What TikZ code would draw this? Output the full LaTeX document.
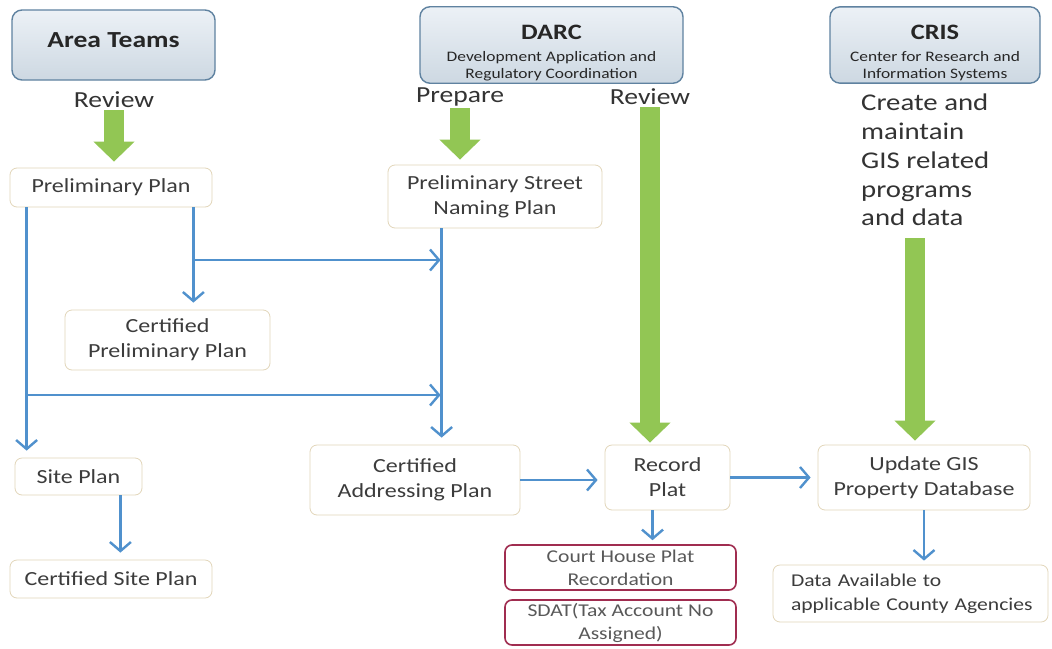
\documentclass[tikz,border=0pt]{standalone}
\usepackage{fontspec}
\setmainfont{Carlito}[FakeStretch=1.2]
\usetikzlibrary{arrows.meta}
\definecolor{hdrline}{RGB}{95,130,160}
\definecolor{hdrtop}{RGB}{236,241,246}
\definecolor{hdrbot}{RGB}{205,216,226}
\definecolor{boxline}{RGB}{226,214,186}
\definecolor{recline}{RGB}{160,45,80}
\definecolor{textgrey}{RGB}{60,60,60}
\definecolor{flowblue}{RGB}{80,145,205}
\definecolor{pushgreen}{RGB}{146,198,84}
\begin{document}
\begin{tikzpicture}[x=1pt,y=-1pt]
	\tikzstyle{header} = [draw=hdrline,line width=1.4pt,rounded corners=10pt,top color=hdrtop,bottom color=hdrbot,text=black!85,align=center,minimum height=70pt,inner sep=2pt,font=\fontsize{14.5}{17}\selectfont]
	\tikzstyle{stage} = [draw=boxline,line width=0.8pt,rounded corners=7pt,fill=white,text=textgrey,align=center,inner sep=2pt,font=\fontsize{20}{25}\selectfont]
	\tikzstyle{record} = [draw=recline,line width=1.6pt,rounded corners=7pt,text=textgrey!85,align=center,inner sep=2pt,minimum width=231pt,minimum height=45pt,font=\fontsize{18}{23}\selectfont]
	\tikzstyle{task} = [text=black!80,inner sep=2pt,font=\fontsize{23}{28}\selectfont]
	\tikzstyle{flow} = [color=flowblue,line width=2.4pt,-{Straight Barb[length=9pt,width=21pt]},shorten >=7pt]
	\tikzstyle{push} = [color=pushgreen,line width=20pt,-{Triangle[length=20pt,width=40pt]}]
	\path[fill=white,use as bounding box] (0,0) rectangle (1052,648);
	
	% units
	\node[header,minimum width=203pt](area)at (113.5,45){\fontsize{23}{26}\selectfont\bfseries\rule[-10pt]{0pt}{10pt}Area Teams};
	\node[header,minimum width=263pt](darc)at (551.5,45){{\fontsize{22}{24}\selectfont\bfseries\rule{0pt}{31pt}DARC}\\[5pt]Development Application and\\Regulatory Coordination};
	\node[header,minimum width=210pt](cris)at (935,45){{\fontsize{22}{24}\selectfont\bfseries\rule{0pt}{31pt}CRIS}\\[5pt]Center for Research and\\Information Systems};
	
	% tasks
	\node[task](rev1)at (114,100){Review};
	\node[task](prep)at (460,97){Prepare};
	\node[task](rev2)at (650,97){Review};
	\node[task,anchor=north west,align=left,font=\fontsize{24}{28.75}\selectfont](note)at (859,92){Create and\\maintain\\GIS related\\programs\\and data};
	\coordinate (gtop) at (915,238);
	
	% plans
	\node[stage,minimum width=202pt,minimum height=39pt](prelim)at (111,187.5){Preliminary Plan};
	\node[stage,minimum width=214pt,minimum height=63pt](street)at (495,196.5){Preliminary Street\\Naming Plan};
	\node[stage,minimum width=205pt,minimum height=60pt](cprelim)at (167.5,340){Certified\\Preliminary Plan};
	\node[stage,minimum width=127pt,minimum height=37pt](site)at (78.5,476.5){Site Plan};
	\node[stage,minimum width=202pt,minimum height=38pt](csite)at (111,579){Certified Site Plan};
	\node[stage,minimum width=210pt,minimum height=70pt](addr)at (415,480){Certified\\Addressing Plan};
	\node[stage,minimum width=125pt,minimum height=65pt](plat)at (667.5,477.5){Record\\Plat};
	\node[stage,minimum width=212pt,minimum height=65pt](gis)at (924,477.5){Update GIS\\Property Database};
	\node[record](court)at (620.5,567.5){Court House Plat\\Recordation};
	\node[record](sdat)at (620.5,622.5){SDAT(Tax Account No\\Assigned)};
	\node[stage,align=left,text width=255pt,inner xsep=10pt,minimum height=57pt,font=\fontsize{18}{24}\selectfont](data)at (910.5,593.5){\hspace*{8pt}Data Available to\\\hspace*{8pt}applicable County Agencies};
	
	% junctions
	\coordinate (p1) at ([xshift=17pt]prelim.south west);
	\coordinate (p2) at ([xshift=-19pt]prelim.south east);
	\coordinate (s1) at ([xshift=54pt]street.south west);
	\coordinate (b1) at (p2 |- 0,260);
	\coordinate (b2) at (p1 |- 0,395);
	
	\path[push] (rev1.south) edge[shorten >=6pt] (rev1.south |- prelim.north)
	(prep.south) edge[shorten >=5pt] (prep.south |- street.north)
	(rev2.south) edge[shorten >=2pt] (rev2.south |- plat.north)
	(gtop) edge[shorten >=4pt] (gtop |- gis.north);
	
	\path[flow] (p1) edge (p1 |- site.north)
	(p2) edge (p2 |- cprelim.north)
	(s1) edge (s1 |- addr.north)
	([xshift=-22pt]site.south east) edge ([xshift=-22pt]site.south east |- csite.north)
	(addr.east) edge (addr.east -| plat.west)
	(plat.east) edge (plat.east -| gis.west)
	([xshift=-15pt]plat.south) edge[shorten >=4pt] ([xshift=-15pt]plat.south |- court.north)
	(gis.south) edge[shorten >=4pt] (gis.south |- data.north);
	\path[flow,shorten >=1pt] (b1) edge (b1 -| s1)
	(b2) edge (b2 -| s1);
	
\end{tikzpicture}
\end{document}
